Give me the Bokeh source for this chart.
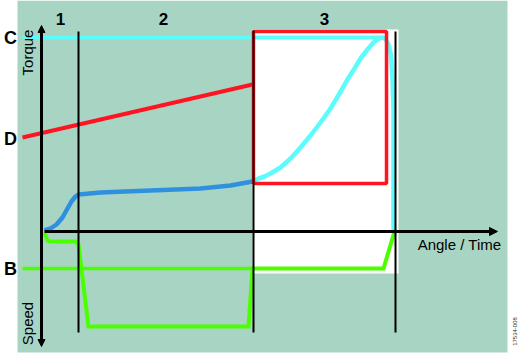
import math
from bokeh.plotting import figure
from bokeh.models import Range1d, Arrow, NormalHead, Label
from bokeh.embed import file_html
from bokeh.resources import INLINE

W, H = 519, 358

# ---- data (diagram coordinates, x: angle/time, y: downwards screen units) ----
bg_x = [17, 507]
bg_y = [0, 352]
white_x = [252, 398]
white_y = [29, 273]

torque_axis_x = [41, 41]
torque_axis_y = [233, 25]
speed_axis_y = [229, 346]
time_axis_x = [44, 497]
time_axis_y = [231, 231]

phase_x = [78, 253, 395]
phase_top = [31, 30, 31]
phase_bottom = [332, 332, 332]

c_x = [22, 380]
c_y = [37, 37]

d_x = [22, 252]
d_y = [137, 84]

b_x = [22, 252]
b_y = [268, 268]

blue_x = [44, 50, 56, 62, 67, 71, 75, 78, 100, 150, 200, 230, 252]
blue_y = [230, 228, 224, 217, 208, 201, 196, 194, 192, 190, 188, 185, 181]

cyan_x = [252, 258, 264, 270, 280, 290, 300, 310, 320, 330, 339, 347, 354, 360, 367,
          373, 377, 380, 382, 384, 386, 388, 390, 391, 392, 393, 393, 393]
cyan_y = [181, 178, 176, 173, 167, 158, 147, 135, 122, 108, 93, 79, 68, 58, 49,
          42, 39, 37.5, 37, 38, 40, 44, 52, 62, 80, 110, 170, 231]

green_x = [44, 47, 49, 75, 78, 88, 248, 252, 383, 394]
green_y = [232, 240, 241, 241, 244, 326, 326, 268, 268, 231]

red_box_x = [253, 386]
red_box_y = [31, 183]

phase_labels = ["1", "2", "3"]
phase_label_x = [60, 163, 324]
letter_labels = ["C", "D", "B"]
letter_x = [10, 10, 10]
letter_y = [37, 138, 268]

p = figure(width=W, height=H, x_range=Range1d(0, W), y_range=Range1d(H, 0),
           output_backend="svg", toolbar_location=None, min_border=0,
           background_fill_color="white", border_fill_color="white",
           outline_line_color=None)
p.axis.visible = False
p.grid.visible = False

# background panels
p.quad(left=bg_x[0], right=bg_x[1], top=bg_y[0], bottom=bg_y[1],
       fill_color="#a8d5c3", line_color=None)
p.quad(left=white_x[0], right=white_x[1], top=white_y[0], bottom=white_y[1],
       fill_color="white", line_color=None)

# series
p.line(c_x, c_y, line_color="#5cfcfc", line_width=4)
p.line(cyan_x, cyan_y, line_color="#5cfcfc", line_width=4.5, line_join="round")
p.line(d_x, d_y, line_color="#ff1522", line_width=4)
p.line(b_x, b_y, line_color="#4cff00", line_width=3.5)
p.line(blue_x, blue_y, line_color="#3090e0", line_width=4.5, line_join="round")
p.line(green_x, green_y, line_color="#4cff00", line_width=4, line_join="miter")

# red box
p.quad(left=red_box_x[0], right=red_box_x[1], top=red_box_y[0], bottom=red_box_y[1],
       fill_color=None, line_color="#ff1522", line_width=3.5)

# phase lines
p.segment(x0=phase_x, y0=phase_top, x1=phase_x, y1=phase_bottom,
          line_color="black", line_width=2)

# axes with arrows
p.add_layout(Arrow(end=NormalHead(size=7, fill_color="black", line_color="black"),
                   x_start=torque_axis_x[0], y_start=torque_axis_y[0],
                   x_end=torque_axis_x[1], y_end=torque_axis_y[1],
                   line_width=3, line_color="black"))
p.add_layout(Arrow(end=NormalHead(size=7, fill_color="black", line_color="black"),
                   x_start=torque_axis_x[0], y_start=speed_axis_y[0],
                   x_end=torque_axis_x[1], y_end=speed_axis_y[1],
                   line_width=3, line_color="black"))
p.add_layout(Arrow(end=NormalHead(size=8, fill_color="black", line_color="black"),
                   x_start=time_axis_x[0], y_start=time_axis_y[0],
                   x_end=time_axis_x[1], y_end=time_axis_y[1],
                   line_width=3, line_color="black"))

# texts
for t, x in zip(phase_labels, phase_label_x):
    p.add_layout(Label(x=x, y=18, text=t, text_font="Liberation Sans",
                       text_font_style="bold", text_font_size="17px",
                       text_align="center", text_baseline="middle", text_color="black"))
for t, x, y in zip(letter_labels, letter_x, letter_y):
    p.add_layout(Label(x=x, y=y, text=t, text_font="Liberation Sans",
                       text_font_style="bold", text_font_size="18px",
                       text_align="center", text_baseline="middle", text_color="black"))

p.add_layout(Label(x=27, y=52, text="Torque", angle=math.pi / 2,
                   text_font="Liberation Sans", text_font_size="15px",
                   text_align="center", text_baseline="middle", text_color="black"))
p.add_layout(Label(x=27, y=323, text="Speed", angle=math.pi / 2,
                   text_font="Liberation Sans", text_font_size="15px",
                   text_align="center", text_baseline="middle", text_color="black"))
p.add_layout(Label(x=459, y=244, text="Angle / Time",
                   text_font="Liberation Sans", text_font_size="15px",
                   text_align="center", text_baseline="middle", text_color="black"))
p.add_layout(Label(x=514, y=331, text="17534-008", angle=math.pi / 2,
                   text_font="Liberation Sans", text_font_size="6px",
                   text_align="center", text_baseline="middle", text_color="#333333"))

open("out.html", "w").write(file_html(p, INLINE))
